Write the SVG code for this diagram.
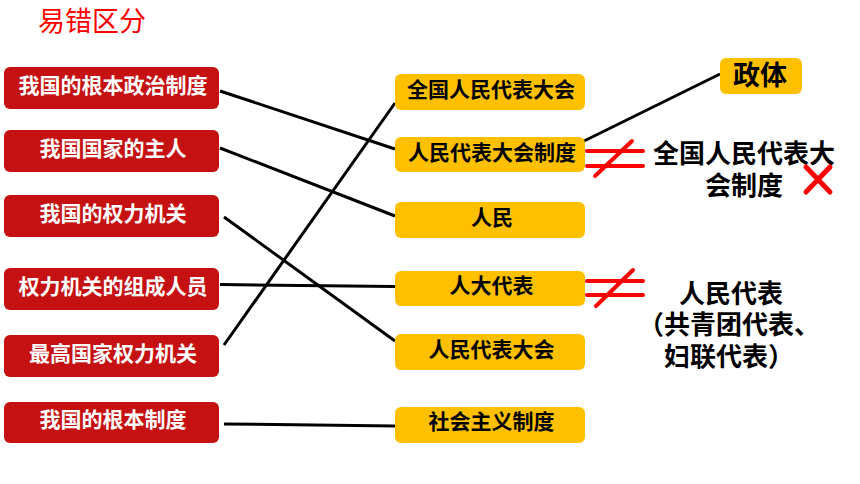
<svg xmlns="http://www.w3.org/2000/svg" width="860" height="484" viewBox="0 0 860 484">
<style>
.l rect{fill:#C51111;}
.l text{fill:#fff;font-size:21px;font-weight:bold;text-anchor:middle;}
.r rect{fill:#FFC000;}
.r text{fill:#000;font-size:21px;font-weight:bold;text-anchor:middle;}
text{font-family:"Noto Sans CJK SC","Noto Sans",sans-serif;}
.big{font-size:26px;font-weight:bold;fill:#000;text-anchor:middle;}
.conn line{stroke:#000;stroke-width:3;}
.ne line{stroke:#FF0000;stroke-width:4;stroke-linecap:round;}
.ne .x{stroke-width:5;}
</style>
<rect width="860" height="484" fill="#fff"/>
<text x="38" y="31" font-size="27" fill="#FF0000">易错区分</text>

<g id="connectors" class="conn">
<line x1="220" y1="91" x2="395" y2="149"/>
<line x1="220" y1="148" x2="395" y2="216"/>
<line x1="224" y1="217" x2="395" y2="341"/>
<line x1="220" y1="284.5" x2="395" y2="286.5"/>
<line x1="224" y1="345" x2="395" y2="103"/>
<line x1="224" y1="424" x2="395" y2="426"/>
<line x1="580" y1="143" x2="720" y2="74"/>
</g>

<g id="L1" class="l"><rect x="4" y="67" width="215" height="42" rx="6"/><text x="113" y="93">我国的根本政治制度</text></g>
<g id="L2" class="l"><rect x="4" y="130" width="215" height="42" rx="6"/><text x="113" y="156">我国国家的主人</text></g>
<g id="L3" class="l"><rect x="4" y="195" width="215" height="42" rx="6"/><text x="113" y="221">我国的权力机关</text></g>
<g id="L4" class="l"><rect x="4" y="268" width="215" height="42" rx="6"/><text x="113" y="294">权力机关的组成人员</text></g>
<g id="L5" class="l"><rect x="4" y="335" width="215" height="42" rx="6"/><text x="113" y="361">最高国家权力机关</text></g>
<g id="L6" class="l"><rect x="4" y="402" width="215" height="41" rx="6"/><text x="113" y="427">我国的根本制度</text></g>

<g id="R1" class="r"><rect x="395" y="74" width="190" height="36" rx="6"/><text x="491" y="97">全国人民代表大会</text></g>
<g id="R2" class="r"><rect x="395" y="137" width="190" height="35" rx="6"/><text x="492" y="160">人民代表大会制度</text></g>
<g id="R3" class="r"><rect x="395" y="202" width="190" height="36" rx="6"/><text x="492" y="225">人民</text></g>
<g id="R4" class="r"><rect x="395" y="271" width="190" height="35" rx="6"/><text x="491.5" y="293">人大代表</text></g>
<g id="R5" class="r"><rect x="395" y="334" width="190" height="36" rx="6"/><text x="491.5" y="357">人民代表大会</text></g>
<g id="R6" class="r"><rect x="395" y="407" width="190" height="36" rx="6"/><text x="491.5" y="429">社会主义制度</text></g>

<g id="zhengti" class="r"><rect x="720" y="58" width="82" height="36" rx="6"/><text x="760" y="85" style="font-size:27px">政体</text></g>

<g id="ne1" class="ne">
<line x1="587" y1="151" x2="643" y2="151"/>
<line x1="587" y1="166" x2="643" y2="166"/>
<line x1="595" y1="176" x2="632" y2="141"/>
</g>
<g id="ne2" class="ne">
<line x1="587" y1="281" x2="643" y2="281"/>
<line x1="587" y1="295" x2="643" y2="295"/>
<line x1="596" y1="306" x2="633" y2="270"/>
</g>

<g id="note1">
<text class="big"><tspan x="744" y="163">全国人民代表大</tspan><tspan x="744" y="195">会制度</tspan></text>
<g class="ne"><line class="x" x1="806" y1="167" x2="830" y2="192"/><line class="x" x1="830" y1="167" x2="806" y2="192"/></g>
</g>

<g id="note2">
<text class="big"><tspan x="731" y="303">人民代表</tspan><tspan x="729" y="334">（共青团代表、</tspan><tspan x="729" y="366">妇联代表）</tspan></text>
</g>
</svg>
